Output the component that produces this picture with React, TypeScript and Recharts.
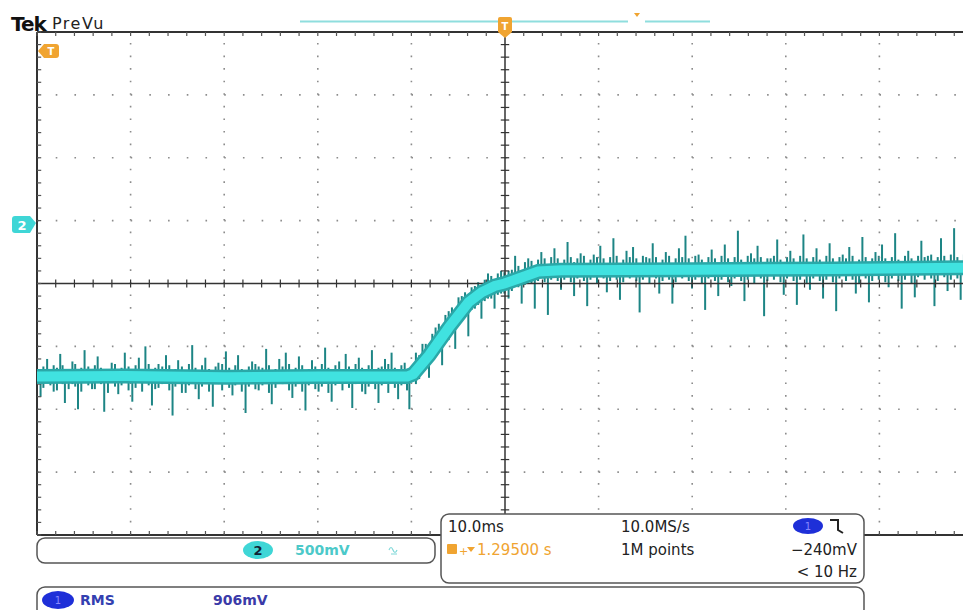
import React from 'react'
import { Bar, ComposedChart, Line, ReferenceLine, XAxis, YAxis } from 'recharts'

// ch2 trace, volts (ground marker = 0 V), time in ms relative to trigger
const bandLevel: [number, number][] = [
  [-50, -1.24], [-40.6, -1.235], [-29.8, -1.245], [-19.9, -1.24], [-10.45, -1.24],
  [-9.8, -1.22], [-8.1, -1.07], [-6.0, -0.85], [-3.9, -0.65], [-2.5, -0.57],
  [-1.1, -0.52], [-0.05, -0.5], [1.45, -0.46], [3.55, -0.405], [6.0, -0.395],
  [20.0, -0.39], [35.05, -0.385], [50, -0.375]
]

// noise spikes: [t, low, high]
const spikesLow: [number, number, number][] = [
  [-49.6, -1.4, -1.24], [-48.9, -1.24, -1.1], [-48.2, -1.36, -1.15], [-47.5, -1.24, -1.06],
  [-47.0, -1.45, -1.24], [-46.2, -1.3, -1.12], [-45.6, -1.5, -1.24], [-44.9, -1.24, -1.03],
  [-44.1, -1.34, -1.2], [-43.5, -1.24, -1.08], [-42.8, -1.52, -1.2], [-42.0, -1.24, -1.13],
  [-41.3, -1.38, -1.24], [-40.6, -1.24, -1.05], [-39.8, -1.44, -1.18], [-39.1, -1.28, -1.09],
  [-38.4, -1.24, -1.0], [-37.7, -1.47, -1.24], [-37.0, -1.33, -1.14], [-36.2, -1.24, -1.07],
  [-35.5, -1.55, -1.24], [-34.9, -1.26, -1.11], [-34.1, -1.37, -1.24], [-33.4, -1.24, -0.99],
  [-32.7, -1.42, -1.19], [-32.0, -1.24, -1.09], [-31.2, -1.48, -1.24], [-30.6, -1.3, -1.13],
  [-29.8, -1.24, -1.04], [-29.1, -1.39, -1.2], [-28.5, -1.24, -1.07], [-27.7, -1.53, -1.24],
  [-27.0, -1.24, -1.12], [-26.3, -1.35, -1.16], [-25.5, -1.24, -1.02], [-24.9, -1.46, -1.24],
  [-24.1, -1.28, -1.1], [-23.4, -1.24, -1.05], [-22.7, -1.41, -1.22], [-22.0, -1.24, -1.08],
  [-21.3, -1.51, -1.24], [-20.6, -1.24, -1.11], [-19.9, -1.36, -1.18], [-19.2, -1.24, -1.01],
  [-18.5, -1.44, -1.24], [-17.7, -1.29, -1.12], [-17.0, -1.24, -1.06], [-16.3, -1.49, -1.2],
  [-15.6, -1.24, -1.09], [-14.9, -1.38, -1.24], [-14.2, -1.24, -1.03], [-13.5, -1.45, -1.17],
  [-12.8, -1.26, -1.1], [-12.1, -1.24, -1.05], [-11.4, -1.42, -1.24], [-10.7, -1.3, -1.13],
  [-10.2, -1.5, -1.2]
]

const spikesRamp: [number, number, number][] = [
  [-9.5, -1.3, -1.05], [-8.8, -1.12, -0.98], [-8.1, -1.25, -1.0], [-7.4, -1.05, -0.85],
  [-6.7, -1.15, -0.92], [-6.0, -0.95, -0.72], [-5.3, -1.02, -0.8], [-4.6, -0.8, -0.6],
  [-3.9, -0.92, -0.68], [-3.2, -0.7, -0.52], [-2.5, -0.78, -0.58], [-1.8, -0.62, -0.42],
  [-1.1, -0.7, -0.52], [-0.4, -0.58, -0.4]
]

const spikesHigh: [number, number, number][] = [
  [0.4, -0.62, -0.4], [1.1, -0.47, -0.28], [1.8, -0.66, -0.45], [2.5, -0.44, -0.3],
  [3.2, -0.7, -0.4], [3.9, -0.4, -0.25], [4.6, -0.75, -0.39], [5.3, -0.39, -0.22],
  [6.0, -0.55, -0.39], [6.7, -0.39, -0.17], [7.4, -0.6, -0.33], [8.1, -0.39, -0.26],
  [8.8, -0.68, -0.39], [9.5, -0.45, -0.27], [10.2, -0.39, -0.2], [10.9, -0.57, -0.39],
  [11.6, -0.39, -0.14], [12.3, -0.63, -0.35], [13.0, -0.42, -0.24], [13.7, -0.39, -0.21],
  [14.4, -0.73, -0.39], [15.1, -0.44, -0.29], [15.8, -0.39, -0.18], [16.5, -0.58, -0.36],
  [17.2, -0.39, -0.25], [17.9, -0.66, -0.39], [18.6, -0.41, -0.22], [19.3, -0.39, -0.12],
  [20.0, -0.54, -0.39], [20.7, -0.45, -0.27], [21.4, -0.71, -0.39], [22.1, -0.39, -0.23],
  [22.8, -0.6, -0.34], [23.5, -0.39, -0.19], [24.2, -0.52, -0.39], [24.9, -0.39, -0.08],
  [25.6, -0.64, -0.38], [26.3, -0.43, -0.26], [27.0, -0.39, -0.2], [27.7, -0.76, -0.39],
  [28.4, -0.42, -0.3], [29.1, -0.39, -0.15], [29.8, -0.59, -0.36], [30.5, -0.39, -0.24],
  [31.2, -0.67, -0.39], [31.9, -0.41, -0.11], [32.6, -0.55, -0.39], [33.3, -0.39, -0.22],
  [34.0, -0.62, -0.34], [34.7, -0.39, -0.18], [35.4, -0.72, -0.39], [36.1, -0.44, -0.27],
  [36.8, -0.39, -0.21], [37.5, -0.58, -0.37], [38.2, -0.39, -0.13], [38.9, -0.65, -0.39],
  [39.6, -0.43, -0.25], [40.3, -0.39, -0.19], [41.0, -0.53, -0.39], [41.7, -0.39, -0.1],
  [42.4, -0.7, -0.36], [43.1, -0.39, -0.24], [43.8, -0.61, -0.39], [44.5, -0.42, -0.16],
  [45.2, -0.39, -0.28], [45.9, -0.68, -0.39], [46.6, -0.39, -0.14], [47.3, -0.56, -0.35],
  [48.0, -0.39, -0.06], [48.7, -0.63, -0.38], [49.4, -0.39, -0.2]
]

// short noise crossing the trace band: [t, low, high]
const fuzzLow: [number, number, number][] = [
  [-49.3, -1.33, -1.16], [-48.55, -1.31, -1.18], [-47.85, -1.35, -1.17], [-47.25, -1.3, -1.15],
  [-46.6, -1.34, -1.18], [-45.9, -1.32, -1.14], [-45.25, -1.36, -1.17], [-44.5, -1.31, -1.16],
  [-43.8, -1.34, -1.15], [-43.15, -1.3, -1.17], [-42.4, -1.37, -1.18], [-41.65, -1.32, -1.14],
  [-40.95, -1.31, -1.17], [-40.2, -1.35, -1.16], [-39.45, -1.33, -1.15], [-38.75, -1.36, -1.18],
  [-38.05, -1.31, -1.14], [-37.35, -1.34, -1.17], [-36.6, -1.3, -1.16], [-35.85, -1.35, -1.15],
  [-35.2, -1.32, -1.18], [-34.5, -1.37, -1.16], [-33.75, -1.31, -1.14], [-33.05, -1.34, -1.17],
  [-32.35, -1.32, -1.15], [-31.6, -1.36, -1.18], [-30.9, -1.3, -1.16], [-30.2, -1.35, -1.14],
  [-29.45, -1.33, -1.17], [-28.8, -1.31, -1.15], [-28.1, -1.36, -1.18], [-27.35, -1.32, -1.16],
  [-26.65, -1.34, -1.14], [-25.9, -1.31, -1.17], [-25.2, -1.37, -1.15], [-24.5, -1.33, -1.18],
  [-23.75, -1.3, -1.16], [-23.05, -1.35, -1.14], [-22.35, -1.32, -1.17], [-21.65, -1.36, -1.15],
  [-20.95, -1.31, -1.18], [-20.25, -1.34, -1.16], [-19.55, -1.32, -1.14], [-18.85, -1.37, -1.17],
  [-18.1, -1.31, -1.15], [-17.35, -1.35, -1.18], [-16.65, -1.33, -1.16], [-15.95, -1.3, -1.14],
  [-15.25, -1.36, -1.17], [-14.55, -1.32, -1.15], [-13.85, -1.34, -1.18], [-13.15, -1.31, -1.16],
  [-12.45, -1.37, -1.14], [-11.75, -1.33, -1.17], [-11.05, -1.31, -1.15], [-10.45, -1.35, -1.18]
]

const fuzzRamp: [number, number, number][] = [
  [-9.15, -1.26, -1.07], [-8.45, -1.17, -0.98], [-7.75, -1.08, -0.9], [-7.05, -1.0, -0.82],
  [-6.35, -0.94, -0.75], [-5.65, -0.87, -0.69], [-4.95, -0.81, -0.61], [-4.25, -0.75, -0.57],
  [-3.55, -0.71, -0.53], [-2.85, -0.67, -0.49], [-2.15, -0.64, -0.47], [-1.45, -0.62, -0.44],
  [-0.75, -0.59, -0.42], [-0.05, -0.58, -0.41]
]

const fuzzHigh: [number, number, number][] = [
  [0.75, -0.56, -0.39], [1.45, -0.53, -0.36], [2.15, -0.51, -0.33], [2.85, -0.5, -0.32],
  [3.55, -0.48, -0.31], [4.25, -0.49, -0.3], [4.95, -0.47, -0.29], [5.65, -0.48, -0.3],
  [6.35, -0.47, -0.31], [7.05, -0.49, -0.29], [7.75, -0.46, -0.3], [8.45, -0.48, -0.28],
  [9.15, -0.47, -0.31], [9.85, -0.5, -0.29], [10.55, -0.46, -0.3], [11.25, -0.48, -0.29],
  [11.95, -0.47, -0.28], [12.65, -0.49, -0.31], [13.35, -0.46, -0.29], [14.05, -0.48, -0.3],
  [14.75, -0.47, -0.28], [15.45, -0.5, -0.3], [16.15, -0.46, -0.29], [16.85, -0.48, -0.31],
  [17.55, -0.47, -0.28], [18.25, -0.49, -0.3], [18.95, -0.46, -0.29], [19.65, -0.48, -0.3],
  [20.35, -0.47, -0.28], [21.05, -0.5, -0.31], [21.75, -0.46, -0.29], [22.45, -0.48, -0.3],
  [23.15, -0.47, -0.28], [23.85, -0.49, -0.3], [24.55, -0.46, -0.29], [25.25, -0.48, -0.31],
  [25.95, -0.47, -0.28], [26.65, -0.5, -0.3], [27.35, -0.46, -0.29], [28.05, -0.48, -0.3],
  [28.75, -0.47, -0.28], [29.45, -0.49, -0.31], [30.15, -0.46, -0.29], [30.85, -0.48, -0.3],
  [31.55, -0.47, -0.28], [32.25, -0.5, -0.3], [32.95, -0.46, -0.29], [33.65, -0.48, -0.31],
  [34.35, -0.47, -0.28], [35.05, -0.49, -0.3], [35.75, -0.46, -0.29], [36.45, -0.48, -0.3],
  [37.15, -0.47, -0.28], [37.85, -0.5, -0.31], [38.55, -0.46, -0.29], [39.25, -0.48, -0.3],
  [39.95, -0.47, -0.28], [40.65, -0.49, -0.3], [41.35, -0.46, -0.29], [42.05, -0.48, -0.31],
  [42.75, -0.47, -0.28], [43.45, -0.5, -0.3], [44.15, -0.45, -0.28], [44.85, -0.47, -0.29],
  [45.55, -0.46, -0.27], [46.25, -0.48, -0.29], [46.95, -0.45, -0.28], [47.65, -0.47, -0.27],
  [48.35, -0.46, -0.29], [49.05, -0.45, -0.27]
]

const timeGrid = [-40, -30, -20, -10, 10, 20, 30, 40]
const voltGrid = [1, 0.5, 0, -1, -1.5, -2]

type Row = { t: number; band?: number; r?: [number, number] }

// one row per time stamp so the bar band stays wide enough
const rowMap = new Map<number, Row>()
for (const [t, lo, hi] of [...spikesLow, ...spikesRamp, ...spikesHigh, ...fuzzLow, ...fuzzRamp, ...fuzzHigh]) {
  rowMap.set(t, { t, r: [lo, hi] })
}
for (const [t, v] of bandLevel) {
  const row = rowMap.get(t)
  if (row) row.band = v
  else rowMap.set(t, { t, band: v })
}
const rows: Row[] = [...rowMap.values()].sort((a, b) => a.t - b.t)

const FONT = '"DejaVu Sans", Verdana, sans-serif'
const CYAN = '#40e2e0'
const DARK = '#1d8585'
const ORANGE = '#f0a431'
const BLUE = '#1e2fd8'

// minor tick positions (1/5 division)
const minorT: number[] = []
for (let i = 0; i <= 50; i++) minorT.push(-50 + i * 2)
const minorV: number[] = []
for (let i = 0; i <= 40; i++) minorV.push(Math.round((-2.5 + i * 0.1) * 100) / 100)

function Overlay(): React.JSX.Element {
  return (
    <svg width={963} height={610} style={{ position: 'absolute', left: 0, top: 0 }} fontFamily={FONT}>
      <text x={11} y={31} fontSize={20} fontWeight="bold" fill="#111" letterSpacing={-1}>Tek</text>
      <text x={52} y={29} fontSize={16} fill="#222" letterSpacing={1.5}>PreVu</text>
      <line x1={300} y1={21.5} x2={628} y2={21.5} stroke="#8fdede" strokeWidth={2} />
      <line x1={645} y1={21.5} x2={710} y2={21.5} stroke="#8fdede" strokeWidth={2} />
      <path d="M634 13 L640 13 L637 17 Z" fill={ORANGE} />
      {/* trigger position marker */}
      <path d="M498 19 Q498 17 500 17 L510 17 Q512 17 512 19 L512 32 L505 38 L498 32 Z" fill={ORANGE} />
      <text x={505} y={30} fontSize={10} textAnchor="middle" fill="#fff" fontWeight="bold">T</text>
      {/* trigger level marker */}
      <path d="M38 51 L44 44 L56 44 Q59 44 59 47 L59 55 Q59 58 56 58 L44 58 Z" fill={ORANGE} />
      <text x={51} y={55} fontSize={10} textAnchor="middle" fill="#fff" fontWeight="bold">T</text>
      {/* ch2 ground marker */}
      <path d="M12 219 Q12 216 15 216 L30 216 L36 223 L30 233 L15 233 Q12 233 12 230 Z" fill="#3fd6d6" />
      <text x={22} y={230} fontSize={13} textAnchor="middle" fill="#fff" fontWeight="bold">2</text>

      {/* channel readout */}
      <rect x={37} y={538} width={398} height={25} rx={8} fill="#fff" stroke="#555" strokeWidth={1.5} />
      <ellipse cx={258} cy={550} rx={15} ry={9} fill="#3fd6d6" />
      <text x={258} y={555} fontSize={13} textAnchor="middle" fill="#123" fontWeight="bold">2</text>
      <text x={295} y={555} fontSize={14} fill="#4cc9c9" fontWeight="bold">500mV</text>
      <path d="M389 550 q2 -5 4 0 t4 0 M391 554 l6 0" stroke="#7fd8d8" strokeWidth={1.2} fill="none" />

      {/* horizontal / trigger readout */}
      <rect x={441} y={514} width={423} height={69} rx={8} fill="#fff" stroke="#555" strokeWidth={1.5} />
      <text x={448} y={532} fontSize={15} fill="#222">10.0ms</text>
      <text x={621} y={532} fontSize={15} fill="#222">10.0MS/s</text>
      <ellipse cx={808} cy={526} rx={15} ry={8} fill={BLUE} />
      <text x={808} y={530} fontSize={10} textAnchor="middle" fill="#88f">1</text>
      <path d="M830 520 L838 520 L838 530 L843 533" stroke="#222" strokeWidth={2} fill="none" />
      <rect x={447} y={544} width={10} height={10} rx={1} fill={ORANGE} />
      <text x={459} y={555} fontSize={11} fill={ORANGE}>+</text>
      <path d="M467 547 L475 547 L471 552 Z" fill={ORANGE} />
      <text x={477} y={555} fontSize={15} fill={ORANGE}>1.29500 s</text>
      <text x={621} y={555} fontSize={15} fill="#222">1M points</text>
      <text x={857} y={555} fontSize={15} fill="#222" textAnchor="end">−240mV</text>
      <text x={857} y={577} fontSize={15} fill="#222" textAnchor="end">&lt; 10 Hz</text>

      {/* measurement readout */}
      <rect x={37} y={587} width={827} height={30} rx={8} fill="#fff" stroke="#555" strokeWidth={1.5} />
      <ellipse cx={58} cy={600} rx={16} ry={9} fill={BLUE} />
      <text x={58} y={604} fontSize={10} textAnchor="middle" fill="#88f">1</text>
      <text x={80} y={605} fontSize={14} fill="#3340b0" fontWeight="bold">RMS</text>
      <text x={213} y={605} fontSize={14} fill="#3a3aa8" fontWeight="bold">906mV</text>
    </svg>
  )
}

export default function App(): React.JSX.Element {
  const tickV = 0.032
  const tickT = 0.45
  return (
    <div style={{ position: 'absolute', left: 0, top: 0, width: 963, height: 610, overflow: 'hidden', background: '#fff' }}>
      <ComposedChart width={973} height={610} data={rows} margin={{ top: 32, right: 0, bottom: 75, left: 37 }}>
        <XAxis dataKey="t" type="number" domain={[-50, 50]} allowDataOverflow hide />
        <YAxis type="number" domain={[-2.5, 1.5]} allowDataOverflow hide />
        {voltGrid.map((v) => (
          <ReferenceLine key={'h' + v} y={v} stroke="#8c8c8c" strokeWidth={1.6} strokeDasharray="1.6 17.12" />
        ))}
        {timeGrid.map((t) => (
          <ReferenceLine key={'v' + t} x={t} stroke="#8c8c8c" strokeWidth={1.6} strokeDasharray="1.6 10.975" />
        ))}
        <ReferenceLine y={-0.5} stroke="#333" strokeWidth={1.5} />
        <ReferenceLine x={0} stroke="#333" strokeWidth={1.5} />
        <ReferenceLine y={1.5} stroke="#333" strokeWidth={2} />
        <ReferenceLine y={-2.5} stroke="#333" strokeWidth={2} />
        <ReferenceLine x={-50} stroke="#333" strokeWidth={2} />
        {minorT.map((t) => (
          <ReferenceLine key={'ct' + t} segment={[{ x: t, y: -0.5 - tickV }, { x: t, y: -0.5 + tickV }]} stroke="#333" strokeWidth={1.2} />
        ))}
        {minorT.map((t) => (
          <ReferenceLine key={'tt' + t} segment={[{ x: t, y: 1.5 }, { x: t, y: 1.5 - tickV }]} stroke="#555" strokeWidth={1.2} />
        ))}
        {minorT.map((t) => (
          <ReferenceLine key={'bt' + t} segment={[{ x: t, y: -2.5 }, { x: t, y: -2.5 + tickV }]} stroke="#555" strokeWidth={1.2} />
        ))}
        {minorV.map((v) => (
          <ReferenceLine key={'cv' + v} segment={[{ x: -tickT, y: v }, { x: tickT, y: v }]} stroke="#333" strokeWidth={1.2} />
        ))}
        {minorV.map((v) => (
          <ReferenceLine key={'lv' + v} segment={[{ x: -50, y: v }, { x: -50 + tickT, y: v }]} stroke="#555" strokeWidth={1.2} />
        ))}
        <Line dataKey="band" stroke="#2aa8a8" strokeWidth={15} dot={false} connectNulls isAnimationActive={false} type="linear" />
        <Bar dataKey="r" fill={DARK} barSize={2} isAnimationActive={false} />
        <Line dataKey="band" stroke={CYAN} strokeWidth={10} dot={false} connectNulls isAnimationActive={false} type="linear" />
      </ComposedChart>
      <Overlay />
    </div>
  )
}
